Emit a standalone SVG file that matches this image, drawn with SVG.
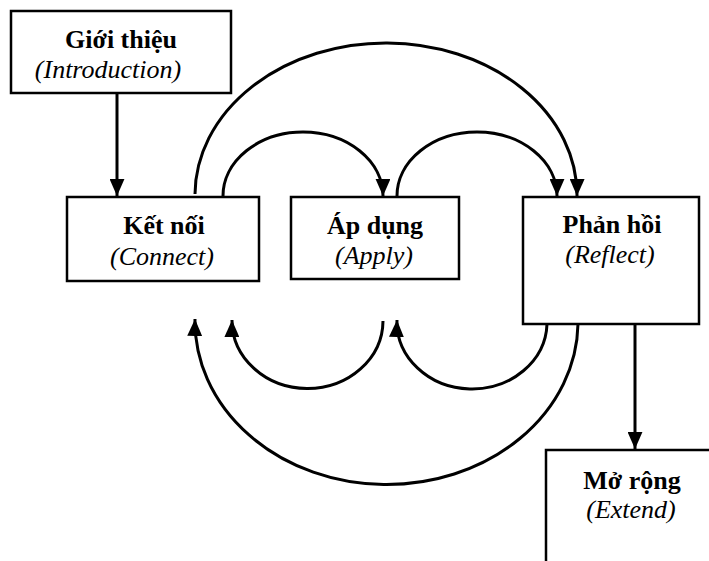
<svg xmlns="http://www.w3.org/2000/svg" width="709" height="561" viewBox="0 0 709 561">
  <style>
    .box { fill: #ffffff; stroke: #000000; stroke-width: 2.5; }
    .t { font-size: 26px; fill: #000000; text-anchor: middle; }
    .b { font-weight: bold; }
    .i { font-style: italic; }
    .c { fill: none; stroke: #000000; stroke-width: 3; }
  </style>
  <defs>
    <marker id="ah" viewBox="0 0 16 14" refX="16" refY="7" markerWidth="17" markerHeight="15" markerUnits="userSpaceOnUse" orient="auto">
      <path d="M0,0 L16,7 L0,14 z" fill="#000000"/>
    </marker>
  </defs>
  <rect x="0" y="0" width="709" height="561" fill="#ffffff"/>

  <g id="connectors">
    <path class="c" d="M117,93 L117,196" marker-end="url(#ah)"/>
    <path class="c" d="M635,324 L635,449" marker-end="url(#ah)"/>
    <path class="c" d="M195,194 A191,152 0 0 1 577,196" marker-end="url(#ah)"/>
    <path class="c" d="M223,196 A80,64 0 0 1 383,196" marker-end="url(#ah)"/>
    <path class="c" d="M397,196 A80,64 0 0 1 557,196" marker-end="url(#ah)"/>
    <path class="c" d="M578,324 A191.5,163 0 0 1 195,319" marker-end="url(#ah)"/>
    <path class="c" d="M383,321 A75.5,68 0 0 1 232,320" marker-end="url(#ah)"/>
    <path class="c" d="M547,324 A75,67 0 0 1 397,320" marker-end="url(#ah)"/>
  </g>

  <g font-family="Liberation Serif, Times New Roman, serif">
  <g id="node-gioi-thieu">
    <rect class="box" x="11" y="11" width="220" height="82"/>
    <text class="t b" x="121" y="48">Giới thiệu</text>
    <text class="t i" x="108" y="78">(Introduction)</text>
  </g>
  <g id="node-ket-noi">
    <rect class="box" x="67" y="197" width="192" height="84"/>
    <text class="t b" x="164" y="234">Kết nối</text>
    <text class="t i" x="162" y="265">(Connect)</text>
  </g>
  <g id="node-ap-dung">
    <rect class="box" x="291" y="197" width="168" height="82"/>
    <text class="t b" x="375" y="234">Áp dụng</text>
    <text class="t i" x="374" y="264">(Apply)</text>
  </g>
  <g id="node-phan-hoi">
    <rect class="box" x="523" y="197" width="176" height="127"/>
    <text class="t b" x="612" y="233">Phản hồi</text>
    <text class="t i" x="610" y="263">(Reflect)</text>
  </g>
  <g id="node-mo-rong">
    <rect class="box" x="546" y="450" width="200" height="150"/>
    <text class="t b" x="632" y="489">Mở rộng</text>
    <text class="t i" x="631" y="518">(Extend)</text>
  </g>
  </g>
</svg>
